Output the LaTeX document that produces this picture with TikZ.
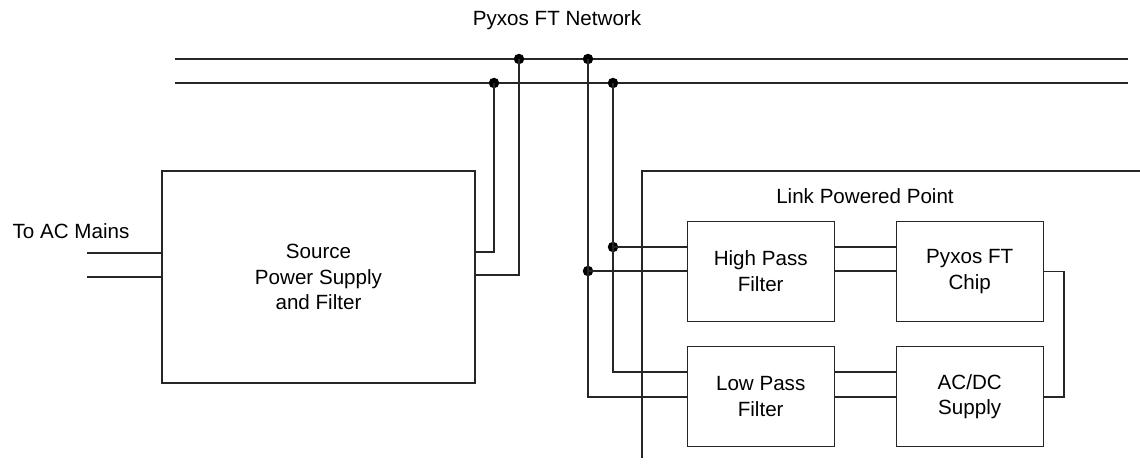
\documentclass[tikz,border=0pt]{standalone}
\usepackage{fontspec}
\setmainfont{Liberation Sans}
\begin{document}
\begin{tikzpicture}[x=1pt,y=-1pt,
  wire/.style={draw=black!85,line width=1.2pt},
  blk/.style={draw=black!85,line width=1.2pt,rectangle,minimum width=147pt,minimum height=100pt,inner sep=0pt,align=center,font=\fontsize{20.6}{25.5}\selectfont},
  lbl/.style={font=\fontsize{20.6}{25.5}\selectfont,inner sep=0pt,align=center},
  dot/.style={circle,fill=black,inner sep=0pt,minimum size=10.5pt}]
\useasboundingbox (0,0) rectangle (1140,468);
% labels
\node[lbl] (net) at (557,20) {Pyxos FT Network};
\node[lbl] (ac) at (71,231) {To AC Mains};
\node[lbl] (lpp) at (865,196) {Link Powered Point};
% boxes
\node[blk,minimum width=313pt,minimum height=212pt] (src) at (318.5,277) {Source\\Power Supply\\and Filter};
\node[blk] (hpf) at (760.7,271.3) {High Pass\\Filter};
\node[blk] (chip) at (969.7,271.3) {Pyxos FT\\Chip};
\node[blk] (lpf) at (760.7,396.7) {Low Pass\\Filter};
\node[blk] (acdc) at (969.7,396.7) {AC/DC\\Supply};
% bus
\coordinate (aL) at (175,59); \coordinate (aR) at (1128,59);
\coordinate (bL) at (175,83); \coordinate (bR) at (1128,83);
\draw[wire] (aL) -- (aR);
\draw[wire] (bL) -- (bR);
% dots
\node[dot] (d1) at (519,59) {};
\node[dot] (d2) at (588,59) {};
\node[dot] (d3) at (494,83) {};
\node[dot] (d4) at (613,83) {};
\node[dot] (d5) at (613,247) {};
\node[dot] (d6) at (588,271) {};
% AC mains
\coordinate (m1) at (87,253); \coordinate (m2) at (87,277);
\draw[wire] (m1) -- (src.west |- m1);
\draw[wire] (m2) -- (src.west |- m2);
% source wires
\coordinate (s1) at (475,252); \coordinate (s2) at (475,275);
\draw[wire] (src.east |- s1) -| (d3.center);
\draw[wire] (src.east |- s2) -| (d1.center);
% right side wires
\coordinate (l1) at (640,372); \coordinate (l2) at (640,397);
\draw[wire] (d2.center) |- (lpf.west |- l2);
\draw[wire] (d4.center) |- (lpf.west |- l1);
\draw[wire] (d5.center) -- (hpf.west |- d5);
\draw[wire] (d6.center) -- (hpf.west |- d6);
% box to box
\draw[wire] (hpf.east |- d5) -- (chip.west |- d5);
\draw[wire] (hpf.east |- d6) -- (chip.west |- d6);
\draw[wire] (lpf.east |- l1) -- (acdc.west |- l1);
\draw[wire] (lpf.east |- l2) -- (acdc.west |- l2);
\coordinate (r1) at (1064,271.3);
\draw[wire] (chip.east |- r1) -- (r1) |- (acdc.east |- l2);
% boundary
\coordinate (bd1) at (642,458); \coordinate (bd2) at (642,171); \coordinate (bd3) at (1140,171);
\draw[wire] (bd1) -- (bd2) -- (bd3);
\end{tikzpicture}
\end{document}
